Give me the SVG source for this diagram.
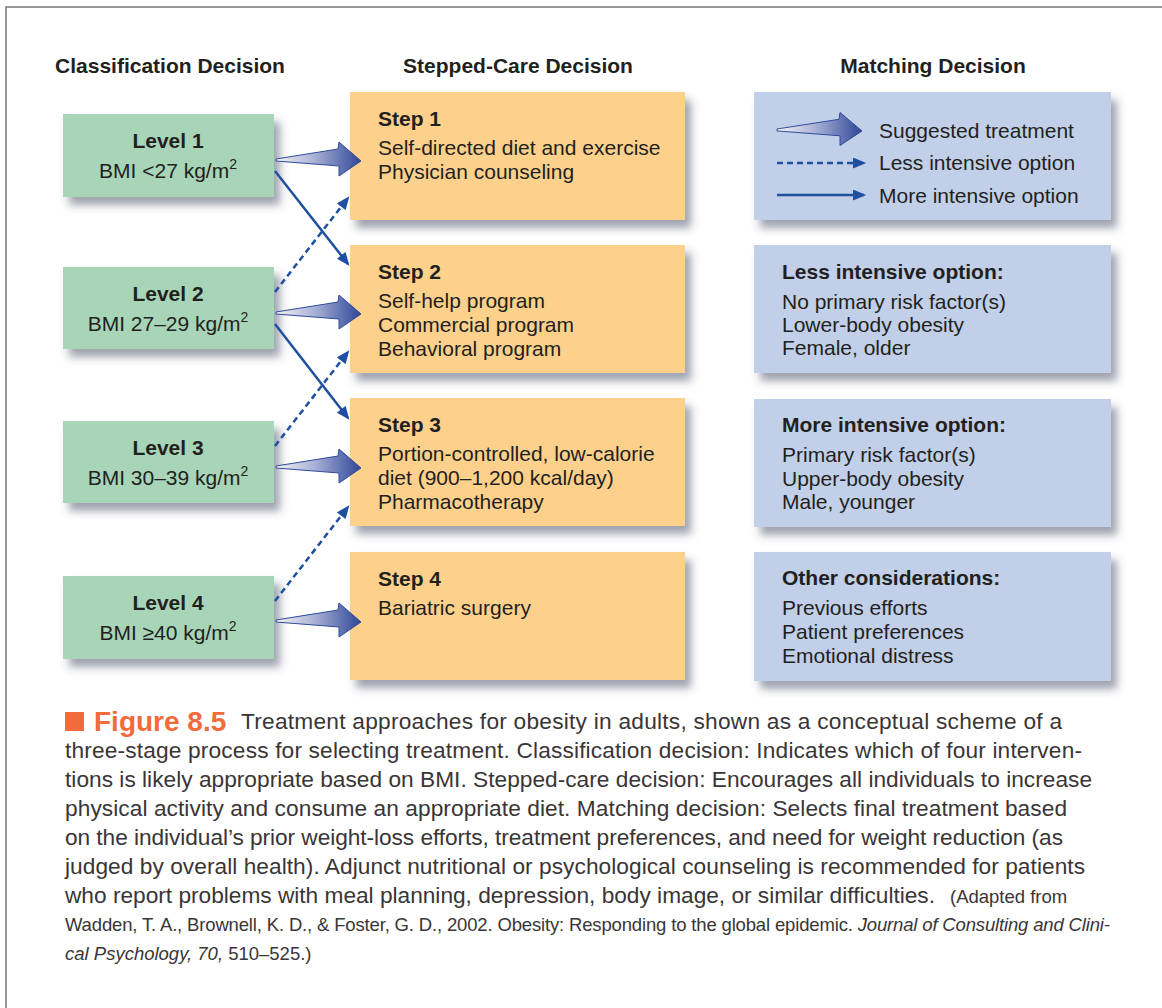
<svg xmlns="http://www.w3.org/2000/svg" width="1162" height="1008" viewBox="0 0 1162 1008">
<defs>
<style>
.hdr{font-family:"Liberation Sans",Arial,sans-serif;font-weight:bold;font-size:21px;fill:#231f20;text-anchor:middle}
.t{font-family:"Liberation Sans",Arial,sans-serif;font-size:21px;fill:#231f20}
.c{text-anchor:middle}
.b{font-weight:bold}
.sup{font-size:14px}
.green{fill:#a8d5b8}
.orange{fill:#fdd18b}
.blue{fill:#c1cfe8}
.conn{stroke:#1f4f9f;stroke-width:2.5;fill:none}
.dash{stroke-dasharray:6 4}
.cap{font-family:"Liberation Sans",Arial,sans-serif;font-size:22.7px;fill:#3a3536}
.sm{font-size:18.5px}
.it{font-style:italic}
</style>
<filter id="sh" x="-10%" y="-10%" width="130%" height="140%">
<feDropShadow dx="6" dy="8" stdDeviation="4" flood-color="#3c4660" flood-opacity="0.5"/>
</filter>
<linearGradient id="fg" x1="0" y1="0" x2="1" y2="0">
<stop offset="0" stop-color="#f7f3f2"/>
<stop offset="0.45" stop-color="#a9b1d6"/>
<stop offset="1" stop-color="#2f4697"/>
</linearGradient>
<path id="fat" d="M0,0 L62,-10 L63,-17 L85,2 L63,17 L63,7 L0,2 Z" fill="url(#fg)" stroke="#2d4b9c" stroke-width="1" stroke-linejoin="miter"/>
<marker id="ah" viewBox="0 0 12 10" refX="10" refY="5" markerWidth="5.6" markerHeight="4.4" orient="auto" markerUnits="strokeWidth">
<path d="M0,0 L12,5 L0,10 z" fill="#1f4f9f"/>
</marker>
</defs>

<rect width="1162" height="1008" fill="#ffffff"/>
<path d="M6,1008 V7 H1162" fill="none" stroke="#777777" stroke-width="1.5"/>

<g id="headers">
<text class="hdr" x="170" y="73">Classification Decision</text>
<text class="hdr" x="518" y="73">Stepped-Care Decision</text>
<text class="hdr" x="933" y="73">Matching Decision</text>
</g>

<g id="level1">
<rect class="green" x="63" y="114" width="211" height="83" filter="url(#sh)"/>
<text class="t c b" x="168" y="148">Level 1</text>
<text class="t c" x="168" y="178">BMI &lt;27 kg/m<tspan class="sup" dy="-9">2</tspan></text>
</g>
<g id="level2">
<rect class="green" x="63" y="267" width="211" height="82" filter="url(#sh)"/>
<text class="t c b" x="168" y="301">Level 2</text>
<text class="t c" x="168" y="331">BMI 27–29 kg/m<tspan class="sup" dy="-9">2</tspan></text>
</g>
<g id="level3">
<rect class="green" x="63" y="421" width="211" height="82" filter="url(#sh)"/>
<text class="t c b" x="168" y="455">Level 3</text>
<text class="t c" x="168" y="485">BMI 30–39 kg/m<tspan class="sup" dy="-9">2</tspan></text>
</g>
<g id="level4">
<rect class="green" x="63" y="576" width="211" height="83" filter="url(#sh)"/>
<text class="t c b" x="168" y="610">Level 4</text>
<text class="t c" x="168" y="640">BMI ≥40 kg/m<tspan class="sup" dy="-9">2</tspan></text>
</g>

<g id="step1">
<rect class="orange" x="350" y="92" width="335" height="128" filter="url(#sh)"/>
<text class="t b" x="378" y="126">Step 1</text>
<text class="t" x="378" y="155">Self-directed diet and exercise</text>
<text class="t" x="378" y="179">Physician counseling</text>
</g>
<g id="step2">
<rect class="orange" x="350" y="245" width="335" height="128" filter="url(#sh)"/>
<text class="t b" x="378" y="279">Step 2</text>
<text class="t" x="378" y="308">Self-help program</text>
<text class="t" x="378" y="332">Commercial program</text>
<text class="t" x="378" y="356">Behavioral program</text>
</g>
<g id="step3">
<rect class="orange" x="350" y="398" width="335" height="128" filter="url(#sh)"/>
<text class="t b" x="378" y="432">Step 3</text>
<text class="t" x="378" y="461">Portion-controlled, low-calorie</text>
<text class="t" x="378" y="485">diet (900–1,200 kcal/day)</text>
<text class="t" x="378" y="509">Pharmacotherapy</text>
</g>
<g id="step4">
<rect class="orange" x="350" y="552" width="335" height="128" filter="url(#sh)"/>
<text class="t b" x="378" y="586">Step 4</text>
<text class="t" x="378" y="615">Bariatric surgery</text>
</g>

<g id="legend">
<rect class="blue" x="754" y="92" width="357" height="128" filter="url(#sh)"/>
<use href="#fat" transform="translate(777,129) scale(1,0.97)"/>
<line class="conn dash" x1="777" y1="163" x2="864" y2="163" marker-end="url(#ah)"/>
<line class="conn" x1="777" y1="195" x2="864" y2="195" marker-end="url(#ah)"/>
<text class="t" x="879" y="138">Suggested treatment</text>
<text class="t" x="879" y="170">Less intensive option</text>
<text class="t" x="879" y="203">More intensive option</text>
</g>
<g id="less-intensive">
<rect class="blue" x="754" y="245" width="357" height="128" filter="url(#sh)"/>
<text class="t b" x="782" y="279">Less intensive option:</text>
<text class="t" x="782" y="309">No primary risk factor(s)</text>
<text class="t" x="782" y="332">Lower-body obesity</text>
<text class="t" x="782" y="355">Female, older</text>
</g>
<g id="more-intensive">
<rect class="blue" x="754" y="399" width="357" height="128" filter="url(#sh)"/>
<text class="t b" x="782" y="432">More intensive option:</text>
<text class="t" x="782" y="462">Primary risk factor(s)</text>
<text class="t" x="782" y="486">Upper-body obesity</text>
<text class="t" x="782" y="509">Male, younger</text>
</g>
<g id="other">
<rect class="blue" x="754" y="552" width="357" height="129" filter="url(#sh)"/>
<text class="t b" x="782" y="585">Other considerations:</text>
<text class="t" x="782" y="615">Previous efforts</text>
<text class="t" x="782" y="639">Patient preferences</text>
<text class="t" x="782" y="663">Emotional distress</text>
</g>

<g id="connectors">
<use href="#fat" transform="translate(276,159)"/>
<use href="#fat" transform="translate(276,312)"/>
<use href="#fat" transform="translate(276,466)"/>
<use href="#fat" transform="translate(276,620)"/>
<line class="conn" x1="275" y1="171" x2="348" y2="264" marker-end="url(#ah)"/>
<line class="conn dash" x1="275" y1="292" x2="348" y2="198" marker-end="url(#ah)"/>
<line class="conn" x1="275" y1="324" x2="348" y2="418" marker-end="url(#ah)"/>
<line class="conn dash" x1="275" y1="446" x2="348" y2="352" marker-end="url(#ah)"/>
<line class="conn dash" x1="275" y1="601" x2="348" y2="507" marker-end="url(#ah)"/>
</g>

<g id="caption">
<rect x="65" y="712" width="19" height="19" fill="#f26b3b"/>
<text x="94" y="731" font-family="'Liberation Sans',Arial,sans-serif" font-weight="bold" font-size="28" fill="#f26b3b">Figure 8.5</text>
<text class="cap" x="241" y="729" textLength="821" lengthAdjust="spacing">Treatment approaches for obesity in adults, shown as a conceptual scheme of a</text>
<text class="cap" x="65" y="758" textLength="1017" lengthAdjust="spacing">three-stage process for selecting treatment. Classification decision: Indicates which of four interven-</text>
<text class="cap" x="65" y="787" textLength="1027" lengthAdjust="spacing">tions is likely appropriate based on BMI. Stepped-care decision: Encourages all individuals to increase</text>
<text class="cap" x="65" y="816" textLength="1002" lengthAdjust="spacing">physical activity and consume an appropriate diet. Matching decision: Selects final treatment based</text>
<text class="cap" x="65" y="845" textLength="998" lengthAdjust="spacing">on the individual’s prior weight-loss efforts, treatment preferences, and need for weight reduction (as</text>
<text class="cap" x="65" y="874" textLength="1020" lengthAdjust="spacing">judged by overall health). Adjunct nutritional or psychological counseling is recommended for patients</text>
<text class="cap" x="65" y="903" textLength="870" lengthAdjust="spacing">who report problems with meal planning, depression, body image, or similar difficulties.</text>
<text class="cap sm" x="950" y="903">(Adapted from</text>
<text class="cap sm" x="65" y="931" textLength="1045" lengthAdjust="spacing">Wadden, T. A., Brownell, K. D., &amp; Foster, G. D., 2002. Obesity: Responding to the global epidemic. <tspan class="it">Journal of Consulting and Clini-</tspan></text>
<text class="cap sm" x="65" y="960"><tspan class="it">cal Psychology, 70,</tspan> 510–525.)</text>
</g>
</svg>
